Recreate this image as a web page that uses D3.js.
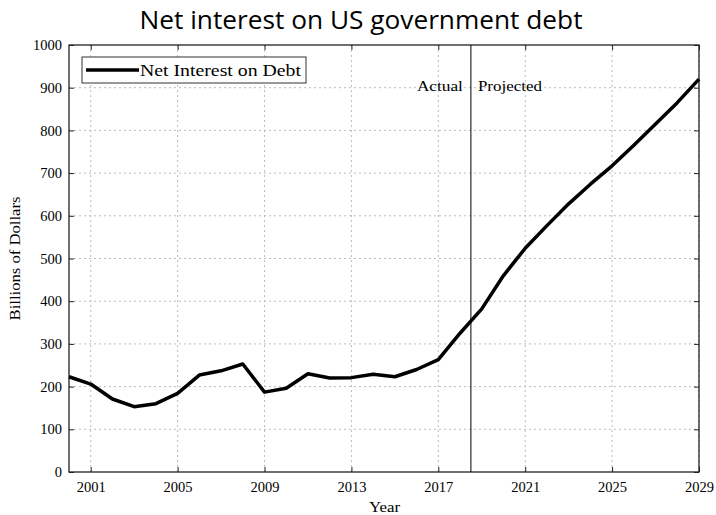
<!DOCTYPE html>
<html>
<head>
<meta charset="utf-8">
<script src="https://cdn.jsdelivr.net/npm/d3@7"></script>
<style>
  html, body { margin: 0; padding: 0; background: #fff; }
  svg { display: block; }
</style>
</head>
<body>
<svg id="chart" width="716" height="515"></svg>
<script>
// Net interest outlays, billions of dollars (actual through 2018, projected after)
const years = [2000, 2001, 2002, 2003, 2004, 2005, 2006, 2007, 2008, 2009,
               2010, 2011, 2012, 2013, 2014, 2015, 2016, 2017, 2018, 2019,
               2020, 2021, 2022, 2023, 2024, 2025, 2026, 2027, 2028, 2029];
const netInterest = [223, 206, 171, 153, 160, 184, 227, 237, 253, 187,
                     196, 230, 220, 221, 229, 223, 240, 263, 325, 382,
                     460, 524, 577, 628, 674, 717, 765, 815, 865, 920];
const xTicks = [2001, 2005, 2009, 2013, 2017, 2021, 2025, 2029];
const yTicks = [0, 100, 200, 300, 400, 500, 600, 700, 800, 900, 1000];
const splitYear = 2018.5;

const svg = d3.select("#chart");
const m = { left: 69, right: 699, top: 45, bottom: 472 };
const serif = "'Liberation Serif', 'DejaVu Serif', serif";

const x = d3.scaleLinear().domain([2000, 2029]).range([m.left, m.right]);
const y = d3.scaleLinear().domain([0, 1000]).range([m.bottom, m.top]);

// grid
const grid = svg.append("g").attr("stroke", "#bbb").attr("stroke-width", 1)
  .attr("stroke-dasharray", "2,3");
grid.selectAll(".gx").data(xTicks).join("line")
  .attr("x1", d => x(d)).attr("x2", d => x(d))
  .attr("y1", m.top).attr("y2", m.bottom);
grid.selectAll(".gy").data(yTicks.slice(1, -1)).join("line")
  .attr("x1", m.left).attr("x2", m.right)
  .attr("y1", d => y(d)).attr("y2", d => y(d));

// axes with inward ticks
const tickLen = 5;
const axB = svg.append("g").attr("transform", `translate(0,${m.bottom})`)
  .call(d3.axisBottom(x).tickValues(xTicks).tickFormat(d3.format("d"))
    .tickSizeInner(-tickLen).tickSizeOuter(0).tickPadding(10));
const axT = svg.append("g").attr("transform", `translate(0,${m.top})`)
  .call(d3.axisTop(x).tickValues(xTicks).tickFormat("")
    .tickSizeInner(-tickLen).tickSizeOuter(0));
const axL = svg.append("g").attr("transform", `translate(${m.left},0)`)
  .call(d3.axisLeft(y).tickValues(yTicks).tickFormat(d3.format("d"))
    .tickSizeInner(-tickLen).tickSizeOuter(0).tickPadding(7));
const axR = svg.append("g").attr("transform", `translate(${m.right},0)`)
  .call(d3.axisRight(y).tickValues(yTicks).tickFormat("")
    .tickSizeInner(-tickLen).tickSizeOuter(0));
[axB, axT, axL, axR].forEach(a => {
  a.select(".domain").remove();
  a.selectAll(".tick line").attr("stroke", "#222");
  a.selectAll("text").attr("font-family", serif).attr("font-size", 14.5).attr("fill", "#000");
});

// frame
svg.append("rect")
  .attr("x", m.left).attr("y", m.top)
  .attr("width", m.right - m.left).attr("height", m.bottom - m.top)
  .attr("fill", "none").attr("stroke", "#222").attr("stroke-width", 1.3);

// actual / projected divider
svg.append("line")
  .attr("x1", x(splitYear)).attr("x2", x(splitYear))
  .attr("y1", m.top).attr("y2", m.bottom)
  .attr("stroke", "#000").attr("stroke-width", 1);
svg.append("text").attr("x", x(splitYear) - 54).attr("y", 91)
  .attr("font-family", serif).attr("font-size", 14)
  .attr("textLength", 46).attr("lengthAdjust", "spacingAndGlyphs")
  .text("Actual");
svg.append("text").attr("x", x(splitYear) + 7).attr("y", 91)
  .attr("font-family", serif).attr("font-size", 14)
  .attr("textLength", 64).attr("lengthAdjust", "spacingAndGlyphs")
  .text("Projected");

// series line
const line = d3.line().x((d, i) => x(years[i])).y(d => y(d));
svg.append("path").datum(netInterest)
  .attr("d", line).attr("fill", "none")
  .attr("stroke", "#000").attr("stroke-width", 3.5)
  .attr("stroke-linejoin", "round");

// legend
const lg = svg.append("g");
lg.append("rect").attr("x", 82).attr("y", 57).attr("width", 224).attr("height", 26)
  .attr("fill", "#fff").attr("stroke", "#333").attr("stroke-width", 1);
lg.append("line").attr("x1", 86).attr("x2", 139).attr("y1", 70).attr("y2", 70)
  .attr("stroke", "#000").attr("stroke-width", 3.5);
lg.append("text").attr("x", 140).attr("y", 76)
  .attr("font-family", serif).attr("font-size", 17.5)
  .attr("textLength", 161).attr("lengthAdjust", "spacingAndGlyphs")
  .text("Net Interest on Debt");

// titles
svg.append("text").attr("x", 361).attr("y", 29).attr("text-anchor", "middle")
  .attr("font-family", "'Open Sans', 'DejaVu Sans', sans-serif").attr("font-size", 26)
  .attr("textLength", 443).attr("lengthAdjust", "spacingAndGlyphs")
  .text("Net interest on US government debt");
svg.append("text").attr("x", 369).attr("y", 512)
  .attr("font-family", serif).attr("font-size", 14)
  .attr("textLength", 31).attr("lengthAdjust", "spacingAndGlyphs")
  .text("Year");
svg.append("text")
  .attr("transform", `translate(20,${(m.top + m.bottom) / 2}) rotate(-90)`)
  .attr("text-anchor", "middle")
  .attr("font-family", serif).attr("font-size", 14)
  .attr("textLength", 124).attr("lengthAdjust", "spacingAndGlyphs")
  .text("Billions of Dollars");
</script>
</body>
</html>
